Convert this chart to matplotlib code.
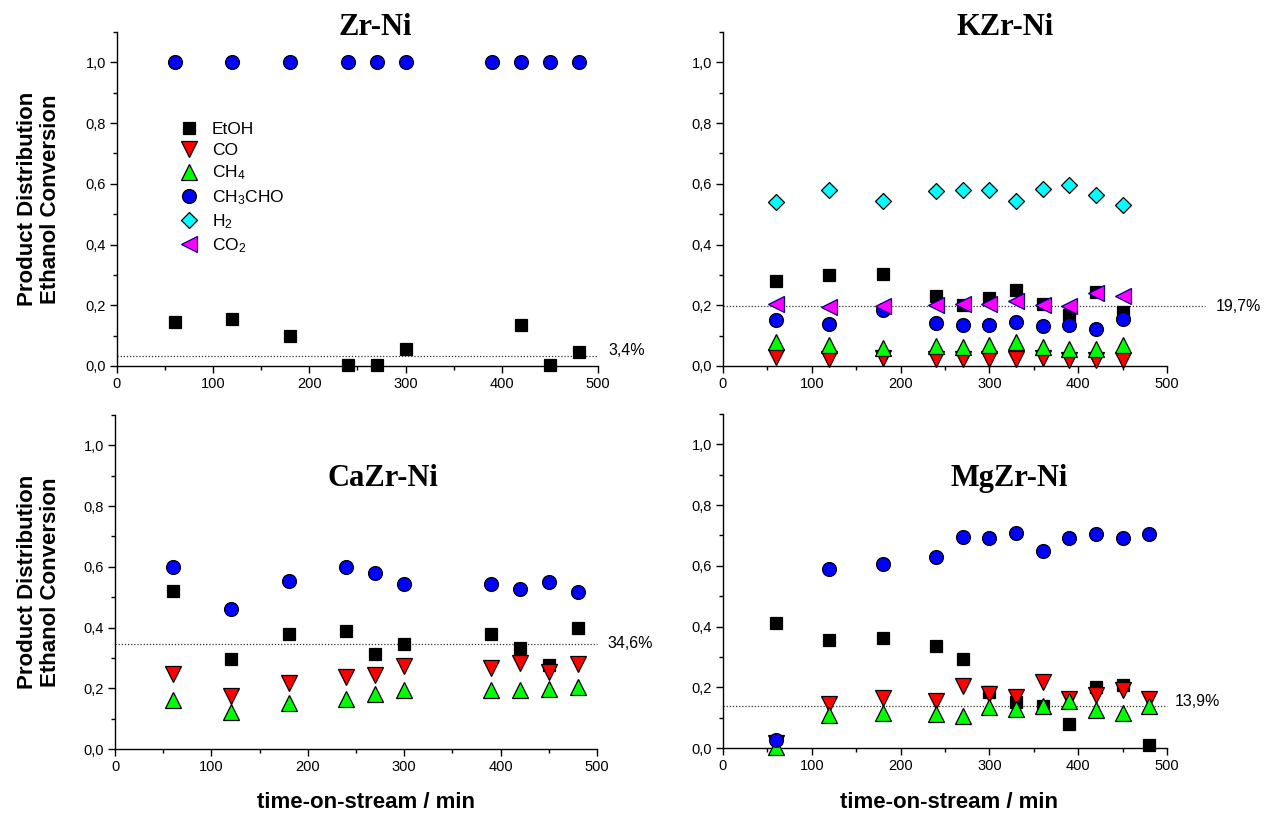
import matplotlib
matplotlib.use("Agg")
import matplotlib.pyplot as plt
from matplotlib.ticker import MultipleLocator, FuncFormatter
from matplotlib.lines import Line2D

plt.rcParams["font.family"] = ["Liberation Sans", "DejaVu Sans"]
plt.rcParams["mathtext.fontset"] = "custom"
plt.rcParams["mathtext.rm"] = "Liberation Sans"
plt.rcParams["mathtext.it"] = "Liberation Sans:italic"
plt.rcParams["mathtext.bf"] = "Liberation Sans:bold"

# ---------------------------------------------------------
# データ
# ---------------------------------------------------------
series_names = ["EtOH", "CO", "CH4", "CH3CHO", "H2", "CO2"]
series_labels = ["EtOH", "CO", "CH$_4$", "CH$_3$CHO", "H$_2$", "CO$_2$"]

# Zr-Ni
zr_t = [60, 120, 180, 240, 270, 300, 390, 420, 450, 480]
zr_etoh_t = [60, 120, 180, 240, 270, 300, 420, 450, 480]
zr_etoh = [0.145, 0.155, 0.100, 0.002, 0.002, 0.056, 0.135, 0.003, 0.047]
zr_ch3cho = [1.0, 1.0, 1.0, 1.0, 1.0, 1.0, 1.0, 1.0, 1.0, 1.0]
zr_conv = 0.034

# KZr-Ni
k_t = [60, 120, 180, 240, 270, 300, 330, 360, 390, 420, 450]
k_etoh = [0.279, 0.300, 0.302, 0.229, 0.200, 0.224, 0.249, 0.204, 0.169, 0.243, 0.178]
k_co = [0.030, 0.024, 0.026, 0.022, 0.024, 0.022, 0.024, 0.026, 0.019, 0.021, 0.019]
k_ch4 = [0.079, 0.070, 0.060, 0.066, 0.063, 0.070, 0.079, 0.063, 0.057, 0.055, 0.070]
k_ch3cho = [0.150, 0.137, 0.183, 0.141, 0.136, 0.136, 0.144, 0.132, 0.136, 0.123, 0.154]
k_h2 = [0.539, 0.578, 0.543, 0.576, 0.581, 0.580, 0.543, 0.584, 0.595, 0.564, 0.529]
k_co2 = [0.204, 0.195, 0.197, 0.202, 0.205, 0.203, 0.213, 0.202, 0.198, 0.241, 0.232]
k_conv = 0.197

# CaZr-Ni
ca_t = [60, 120, 180, 240, 270, 300, 390, 420, 450, 480]
ca_etoh = [0.521, 0.296, 0.378, 0.390, 0.312, 0.346, 0.378, 0.332, 0.277, 0.400]
ca_co = [0.247, 0.175, 0.219, 0.237, 0.245, 0.272, 0.266, 0.283, 0.255, 0.281]
ca_ch4 = [0.160, 0.122, 0.153, 0.166, 0.182, 0.193, 0.193, 0.193, 0.197, 0.204]
ca_ch3cho = [0.599, 0.461, 0.554, 0.601, 0.579, 0.543, 0.544, 0.527, 0.550, 0.518]
ca_conv = 0.346

# MgZr-Ni
mg_t = [60, 120, 180, 240, 270, 300, 330, 360, 390, 420, 450, 480]
mg_etoh = [0.412, 0.357, 0.363, 0.336, 0.294, 0.186, 0.151, 0.137, 0.078, 0.201, 0.209, 0.011]
mg_co = [0.015, 0.146, 0.164, 0.154, 0.203, 0.179, 0.168, 0.217, 0.160, 0.173, 0.192, 0.162]
mg_ch4 = [0.005, 0.110, 0.116, 0.113, 0.104, 0.135, 0.127, 0.137, 0.155, 0.126, 0.116, 0.140]
mg_ch3cho = [0.027, 0.588, 0.605, 0.628, 0.695, 0.692, 0.708, 0.650, 0.691, 0.705, 0.692, 0.704]
mg_conv = 0.139

# ---------------------------------------------------------
# スタイル
# ---------------------------------------------------------
style = {
    "EtOH": dict(marker="s", color="black", mec="black", ms=8.5),
    "CO": dict(marker="v", color="#ff0000", mec="black", ms=11.5),
    "CH4": dict(marker="^", color="#00ff00", mec="black", ms=11.5),
    "CH3CHO": dict(marker="o", color="#0000ff", mec="black", ms=10),
    "H2": dict(marker="D", color="#00ffff", mec="black", ms=8.5),
    "CO2": dict(marker="<", color="#ff00ff", mec="#000080", ms=11.5),
}

fig = plt.figure(figsize=(12.67, 8.16), dpi=100)

ax_zr = fig.add_axes([0.0923, 0.5515, 0.3797, 0.4093])
ax_k = fig.add_axes([0.5706, 0.5515, 0.3504, 0.4093])
ax_ca = fig.add_axes([0.0908, 0.0821, 0.3804, 0.4093])
ax_mg = fig.add_axes([0.5706, 0.0833, 0.3504, 0.4093])

comma = FuncFormatter(lambda v, p: f"{v:.1f}".replace(".", ","))


def setup(ax):
    ax.set_xlim(0, 500)
    ax.set_ylim(0, 1.1)
    for s in ["top", "right"]:
        ax.spines[s].set_visible(False)
    for s in ["left", "bottom"]:
        ax.spines[s].set_linewidth(1.0)
    ax.xaxis.set_major_locator(MultipleLocator(100))
    ax.xaxis.set_minor_locator(MultipleLocator(50))
    ax.yaxis.set_major_locator(MultipleLocator(0.2))
    ax.yaxis.set_minor_locator(MultipleLocator(0.1))
    ax.yaxis.set_major_formatter(comma)
    ax.tick_params(which="major", direction="out", length=5, width=1.0,
                   labelsize=10.5, pad=3)
    ax.tick_params(which="minor", direction="out", length=3, width=1.0)


def draw(ax, t, name, values):
    ax.plot(t, values, linestyle="None", mew=0.9, clip_on=False, zorder=3,
            **style[name])


def conv_line(ax, value, text, x_end=500, text_x=511, text_y=None):
    ax.plot([0, x_end], [value, value], linestyle=(0, (1, 1.5)),
            color="#333333", linewidth=0.9, clip_on=False, zorder=2)
    ax.text(text_x, value if text_y is None else text_y, text,
            fontsize=11.5, ha="left", va="center")


for ax in [ax_zr, ax_k, ax_ca, ax_mg]:
    setup(ax)

# Zr-Ni
draw(ax_zr, zr_etoh_t, "EtOH", zr_etoh)
draw(ax_zr, zr_t, "CH3CHO", zr_ch3cho)
conv_line(ax_zr, zr_conv, "3,4%", text_y=0.05)
ax_zr.text(0.536, 1.012, "Zr-Ni", transform=ax_zr.transAxes,
           family="Liberation Serif", fontweight="bold", fontsize=22,
           ha="center", va="center")

handles = [
    Line2D([], [], linestyle="None", mew=0.9, **style[n]) for n in series_names
]
ax_zr.legend(handles, series_labels, loc="upper left",
             bbox_to_anchor=(0.131, 0.73), frameon=False, fontsize=12.5,
             borderpad=0, borderaxespad=0, handlelength=1.0,
             handletextpad=0.85, labelspacing=0.32)

# KZr-Ni
draw(ax_k, k_t, "EtOH", k_etoh)
draw(ax_k, k_t, "CO", k_co)
draw(ax_k, k_t, "CH4", k_ch4)
draw(ax_k, k_t, "CH3CHO", k_ch3cho)
draw(ax_k, k_t, "H2", k_h2)
draw(ax_k, k_t, "CO2", k_co2)
conv_line(ax_k, k_conv, "19,7%", x_end=543, text_x=555)
ax_k.text(0.635, 1.012, "KZr-Ni", transform=ax_k.transAxes,
          family="Liberation Serif", fontweight="bold", fontsize=22,
          ha="center", va="center")

# CaZr-Ni
draw(ax_ca, ca_t, "EtOH", ca_etoh)
draw(ax_ca, ca_t, "CO", ca_co)
draw(ax_ca, ca_t, "CH4", ca_ch4)
draw(ax_ca, ca_t, "CH3CHO", ca_ch3cho)
conv_line(ax_ca, ca_conv, "34,6%")
ax_ca.text(0.556, 0.811, "CaZr-Ni", transform=ax_ca.transAxes,
           family="Liberation Serif", fontweight="bold", fontsize=22,
           ha="center", va="center")

# MgZr-Ni
draw(ax_mg, mg_t, "EtOH", mg_etoh)
draw(ax_mg, mg_t, "CO", mg_co)
draw(ax_mg, mg_t, "CH4", mg_ch4)
draw(ax_mg, mg_t, "CH3CHO", mg_ch3cho)
conv_line(ax_mg, mg_conv, "13,9%", text_x=509, text_y=0.152)
ax_mg.text(0.644, 0.808, "MgZr-Ni", transform=ax_mg.transAxes,
           family="Liberation Serif", fontweight="bold", fontsize=22,
           ha="center", va="center")

# 軸ラベル
ylab = "Product Distribution\nEthanol Conversion"
fig.text(39 / 1267, 1 - 199 / 816, ylab, rotation=90, fontsize=16,
         fontweight="bold", ha="center", va="center", multialignment="center",
         linespacing=1.1)
fig.text(39 / 1267, 1 - 582 / 816, ylab, rotation=90, fontsize=16,
         fontweight="bold", ha="center", va="center", multialignment="center",
         linespacing=1.1)
fig.text(366 / 1267, 1 - 803 / 816, "time-on-stream / min", fontsize=16,
         fontweight="bold", ha="center", va="center")
fig.text(949 / 1267, 1 - 803 / 816, "time-on-stream / min", fontsize=16,
         fontweight="bold", ha="center", va="center")

fig.savefig("out.png", dpi=100)
